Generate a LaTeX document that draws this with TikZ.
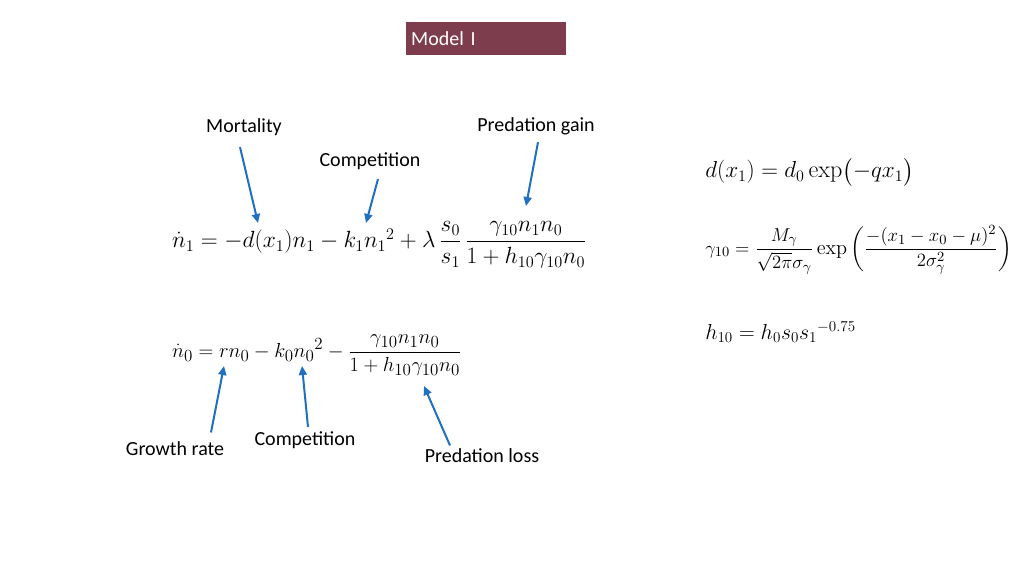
\documentclass[tikz,border=0pt]{standalone}
\usepackage{fontspec}
\setsansfont{Carlito}
\usepackage{amsmath}
\usetikzlibrary{arrows.meta}
\definecolor{titlered}{HTML}{7E3D4D}
\definecolor{arrowblue}{HTML}{1F70C1}
\tikzset{
  lbl/.style={font=\sffamily\fontsize{20}{22}\selectfont},
  ptr/.style={arrowblue, line width=2pt, -{Triangle[length=9pt,width=8pt]}},
  eqn/.style={anchor=west, inner sep=0pt, transform shape}
}
\begin{document}
\begin{tikzpicture}[x=1pt,y=-1pt]
  \useasboundingbox[fill=white] (0,0) rectangle (1024,576);
  % title
  \node[fill=titlered, text=white, minimum width=160, minimum height=33, inner sep=0pt,
        anchor=north west, text width=150, font=\sffamily\fontsize{20}{22}\selectfont] (title) at (406,22) {Model I};
  % equations
  \node[eqn, scale=1.13, font=\fontsize{21}{24}\selectfont] (eqA) at (172,245)
    {$\dot n_1=-d(x_1)n_1-k_1{n_1}^2+\lambda\,\dfrac{s_0}{s_1}\,\dfrac{\gamma_{10}n_1n_0}{1+h_{10}\gamma_{10}n_0}$};
  \node[eqn, scale=1.18, font=\fontsize{19}{22}\selectfont] (eqB) at (172,355)
    {$\dot n_0=rn_0-k_0{n_0}^2-\dfrac{\gamma_{10}n_1n_0}{1+h_{10}\gamma_{10}n_0}$};
  \node[eqn, scale=1.34, font=\fontsize{18}{21}\selectfont] (eqD) at (705,172)
    {$d(x_1)=d_0\exp\bigl(-qx_1\bigr)$};
  \node[eqn, scale=1.56, font=\fontsize{13}{16}\selectfont] (eqG) at (705,250)
    {$\gamma_{10}=\dfrac{M_\gamma}{\sqrt{2\pi}\sigma_\gamma}\exp\left(\dfrac{-(x_1-x_0-\mu)^2}{2\sigma_\gamma^2}\right)$};
  \node[eqn, scale=1.26, font=\fontsize{18}{21}\selectfont] (eqH) at (705,332)
    {$h_{10}=h_0s_0{s_1}^{-0.75}$};
  % labels
  \node[lbl] (mort) at (244,127) {Mortality};
  \node[lbl] (compA) at (370,161) {Competition};
  \node[lbl] (gain) at (536,126) {Predation gain};
  \node[lbl] (grow) at (175,449) {Growth rate};
  \node[lbl] (compB) at (305,440) {Competition};
  \node[lbl] (loss) at (482,456) {Predation loss};
  % pointers
  \coordinate (tMort) at (258,223);
  \coordinate (tCompA) at (366,223);
  \coordinate (tGain) at (526,206);
  \coordinate (tGrow) at (224,366);
  \coordinate (tCompB) at (302,366);
  \coordinate (tLoss) at (424,386);
  \draw[ptr] (mort.south) ++(-4,8) -- (tMort);
  \draw[ptr] (compA.south) ++(8,6) -- (tCompA);
  \draw[ptr] (gain.south) ++(2,4) -- (tGain);
  \draw[ptr] (grow.north) ++(36,-6) -- (tGrow);
  \draw[ptr] (compB.north) ++(3,-1) -- (tCompB);
  \draw[ptr] (loss.north) ++(-32,0) -- (tLoss);
\end{tikzpicture}
\end{document}
